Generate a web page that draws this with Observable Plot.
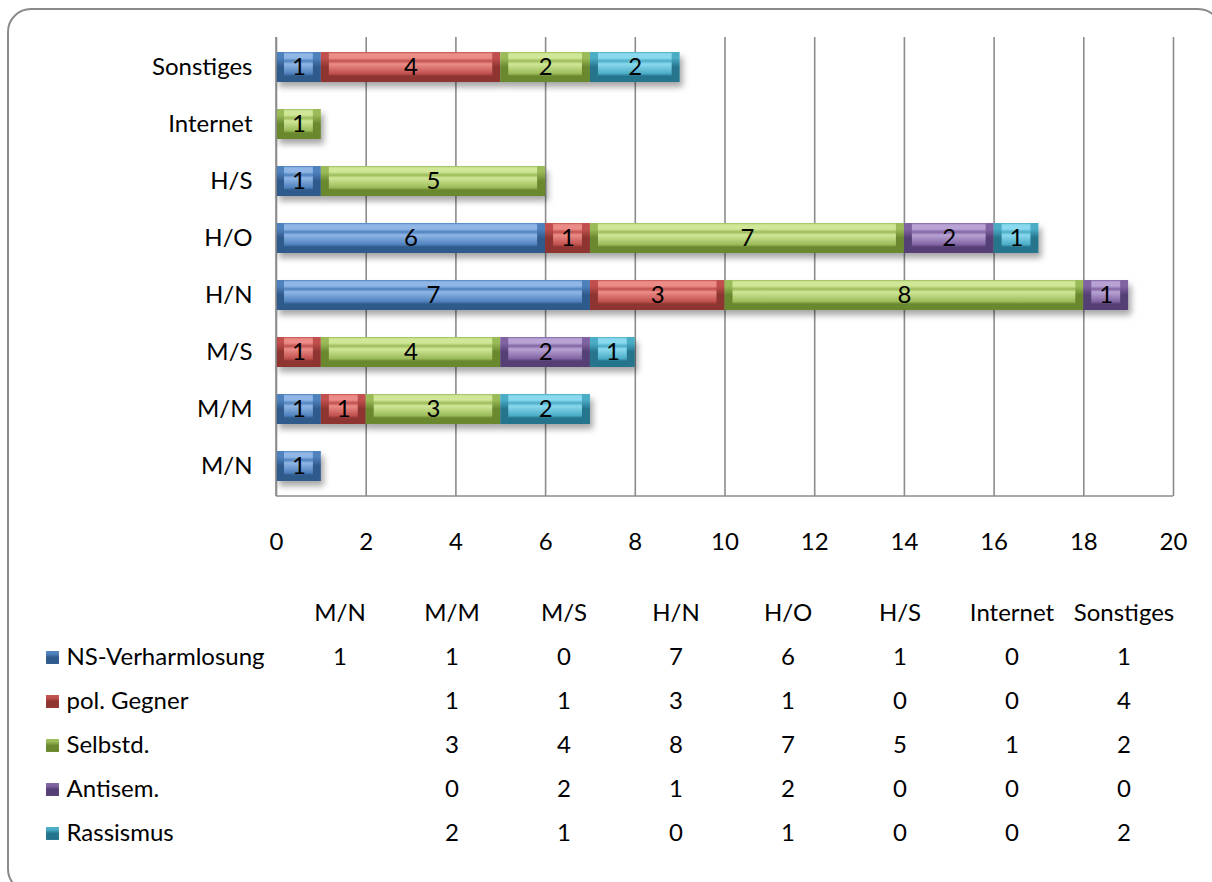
<!DOCTYPE html>
<html>
<head>
<meta charset="utf-8">
<script src="https://cdn.jsdelivr.net/npm/d3@7"></script>
<script src="https://cdn.jsdelivr.net/npm/@observablehq/plot@0.6"></script>
<style>
  html, body { margin: 0; padding: 0; background: #fff; }
  #frame {
    position: absolute; left: 7px; top: 8px; width: 1215px; height: 885px;
    border: 2px solid #8a8a8a; border-radius: 24px; box-sizing: border-box;
  }
  #wrap { position: absolute; left: 0; top: 0; width: 1212px; height: 882px; }
  #wrap svg { display: block; font-family: Lato, "Open Sans", sans-serif; }
</style>
</head>
<body>
<div id="frame"></div>
<div id="wrap"></div>
<script>
const categories = ["M/N", "M/M", "M/S", "H/N", "H/O", "H/S", "Internet", "Sonstiges"];
const seriesNames = ["NS-Verharmlosung", "pol. Gegner", "Selbstd.", "Antisem.", "Rassismus"];
const nsVerharmlosung = [1, 1, 0, 7, 6, 1, 0, 1];
const polGegner       = [null, 1, 1, 3, 1, 0, 0, 4];
const selbstd         = [null, 3, 4, 8, 7, 5, 1, 2];
const antisem         = [null, 0, 2, 1, 2, 0, 0, 0];
const rassismus       = [null, 2, 1, 0, 1, 0, 0, 2];
const xTicks = [0, 2, 4, 6, 8, 10, 12, 14, 16, 18, 20];

// colours: [dark, mid, light]
const palette = [
  ["#2f5a8c", "#4f81bd", "#8fb6e6"],
  ["#8e3431", "#c0504d", "#ec8c88"],
  ["#6a882e", "#9bbb59", "#d0e797"],
  ["#553f75", "#8064a2", "#b8a3d4"],
  ["#25748d", "#4bacc6", "#8ad9ee"]
];

const seriesValues = [nsVerharmlosung, polGegner, selbstd, antisem, rassismus];
const table = [];
seriesNames.forEach((s, i) => categories.forEach((c, j) => {
  table.push({series: s, cat: c, value: seriesValues[i][j]});
}));
const barData = table.filter(d => d.value > 0);

const outerRange = seriesNames.map((s, i) => `url(#go${i})`);
const innerRange = seriesNames.map((s, i) => `url(#gi${i})`);
const FS = 24;

const chart = Plot.plot({
  width: 1212,
  height: 570,
  marginLeft: 276,
  marginRight: 39,
  marginTop: 37,
  marginBottom: 74,
  style: {fontSize: FS + "px", color: "#000", background: "transparent"},
  x: {domain: [0, 20], ticks: xTicks, tickSize: 0, tickPadding: 36, label: null},
  y: {domain: categories.slice().reverse(), paddingInner: 0.48, paddingOuter: 0.24, tickSize: 0, tickPadding: 24, label: null},
  color: {domain: seriesNames, range: outerRange, type: "ordinal"},
  marks: [
    Plot.ruleX(xTicks, {stroke: "#8c8c8c", strokeWidth: 1.6, strokeOpacity: 1}),
    Plot.barX(barData, Plot.stackX({x: "value", y: "cat", z: "series", order: seriesNames, fill: "series"})),
    Plot.barX(barData, Plot.stackX({x: "value", y: "cat", z: "series", order: seriesNames,
      fill: d => innerRange[seriesNames.indexOf(d.series)], insetLeft: 8, insetRight: 8, insetTop: 0, insetBottom: 0})),
    Plot.text(barData, Plot.stackX({x: "value", y: "cat", z: "series", order: seriesNames, text: "value", fill: "#000", fontSize: FS}))
  ]
});

const svg = d3.select(chart);
const defs = svg.insert("defs", ":first-child");
palette.forEach(([dk, md, lt], i) => {
  const go = defs.append("linearGradient").attr("id", `go${i}`).attr("x1", 0).attr("x2", 0).attr("y1", 0).attr("y2", 1);
  [[0, md], [0.2, md], [0.5, dk], [1, dk]].forEach(([o, c]) => go.append("stop").attr("offset", o).attr("stop-color", c));
  const gi = defs.append("linearGradient").attr("id", `gi${i}`).attr("x1", 0).attr("x2", 0).attr("y1", 0).attr("y2", 1);
  [[0, md], [0.06, lt], [0.2, lt], [0.3, md], [0.4, lt], [0.72, md], [0.8, dk], [1, dk]].forEach(([o, c]) => gi.append("stop").attr("offset", o).attr("stop-color", c));
});
const f = defs.append("filter").attr("id", "shadow").attr("x", "-10%").attr("y", "-30%").attr("width", "130%").attr("height", "190%");
f.append("feDropShadow").attr("dx", 3).attr("dy", 5).attr("stdDeviation", 3).attr("flood-color", "#000").attr("flood-opacity", 0.35);
svg.selectAll("g[aria-label='bar']").filter((d, i) => i === 0).attr("filter", "url(#shadow)");
// axis lines
svg.append("line").attr("x1", 276).attr("x2", 1173).attr("y1", 496).attr("y2", 496).attr("stroke", "#8c8c8c").attr("stroke-width", 1.6);
svg.append("line").attr("x1", 276).attr("x2", 276).attr("y1", 37).attr("y2", 496).attr("stroke", "#8c8c8c").attr("stroke-width", 1.6);

// data table
const rowKeys = ["header", ...seriesNames];
const tableText = table.filter(d => d.value !== null);
const tbl = Plot.plot({
  width: 1212,
  height: 312,
  marginLeft: 277,
  marginRight: 26,
  marginTop: 0,
  marginBottom: 0,
  style: {fontSize: FS + "px", color: "#000", background: "transparent"},
  x: {type: "band", domain: categories, axis: null},
  y: {type: "point", domain: rowKeys, range: [41, 265], padding: 0, axis: null},
  color: {domain: seriesNames, range: outerRange, type: "ordinal"},
  marks: [
    Plot.text(categories, {x: d => d, y: () => "header", text: d => d, fontSize: FS, fill: "#000"}),
    Plot.text(tableText, {x: "cat", y: "series", text: "value", fontSize: FS, fill: "#000"}),
    Plot.text(seriesNames, {y: d => d, text: d => d, frameAnchor: "left", textAnchor: "start", dx: 66 - 277, fontSize: FS, fill: "#000"}),
    Plot.dot(seriesNames, {y: d => d, frameAnchor: "left", dx: 52 - 277, symbol: "square", r: 7.3, fill: d => d})
  ]
});

document.getElementById("wrap").appendChild(chart);
document.getElementById("wrap").appendChild(tbl);
const tdefs = d3.select(tbl).insert("defs", ":first-child");
palette.forEach(([dk, md, lt], i) => {
  const g = tdefs.append("radialGradient").attr("id", `go${i}`);
  g.append("stop").attr("offset", 0).attr("stop-color", lt);
  g.append("stop").attr("offset", 1).attr("stop-color", dk);
});
</script>
</body>
</html>
